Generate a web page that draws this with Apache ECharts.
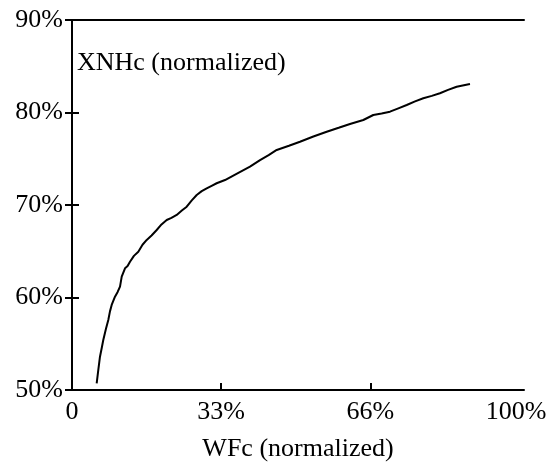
<!DOCTYPE html>
<html>
<head>
<meta charset="utf-8">
<script src="https://cdn.jsdelivr.net/npm/echarts@6/dist/echarts.min.js"></script>
<style>
  html, body { margin: 0; padding: 0; background: #fff; }
  #chart { width: 548px; height: 468px; }
</style>
</head>
<body>
<div id="chart"></div>
<script>
// Normalized WFc (x, %) against normalized XNHc (y, %)
const wfc = [5.46, 5.8, 6.19, 6.6, 6.92, 7.5, 8.03, 8.4, 8.78, 9.51, 10.1, 10.62, 11.0, 11.73, 12.3,
  12.83, 13.7, 14.67, 15.6, 16.53, 17.6, 18.74, 19.8, 20.95, 22.0, 23.16, 24.3, 25.38, 26.5,
  27.59, 28.7, 29.8, 31.0, 32.0, 33.85, 36.5, 39.38, 41.6, 43.5, 45.29, 48.0, 50.44, 53.4,
  56.35, 59.0, 61.5, 64.45, 66.66, 68.5, 70.35, 72.2, 74.05, 75.9, 77.72, 79.6, 81.4, 83.2,
  85.1, 86.7, 88.05];
const xnhc = [50.72, 52.1, 53.6, 54.6, 55.4, 56.6, 57.57, 58.5, 59.19, 60.09, 60.6, 61.17, 62.25, 63.16, 63.4,
  63.87, 64.5, 64.95, 65.7, 66.22, 66.7, 67.3, 67.9, 68.38, 68.6, 68.92, 69.4, 69.82, 70.5,
  71.08, 71.5, 71.8, 72.1, 72.35, 72.7, 73.4, 74.14, 74.86, 75.4, 75.95, 76.4, 76.84, 77.4,
  77.92, 78.35, 78.76, 79.19, 79.73, 79.9, 80.09, 80.45, 80.81, 81.2, 81.54, 81.8, 82.08, 82.45,
  82.79, 82.95, 83.08];

const xTickValues = [33, 66];
const xLabelValues = [0, 33, 66, 100];

const fontFamily = 'Liberation Serif';
const fontSize = 26;
const points = wfc.map((x, i) => [x, xnhc[i]]);

const chart = echarts.init(document.getElementById('chart'));
chart.setOption({
  animation: false,
  backgroundColor: '#fff',
  grid: { left: 72, right: 24, top: 20, bottom: 78, outerBoundsMode: 'none', containLabel: false },
  xAxis: [{
    type: 'value', min: 0, max: 100, position: 'bottom',
    name: 'WFc (normalized)', nameLocation: 'middle', nameGap: 46,
    nameTextStyle: { fontFamily, fontSize, color: '#000' },
    axisLine: { show: true, lineStyle: { color: '#000', width: 2 } },
    axisTick: { show: true, inside: true, length: 7, customValues: xTickValues, lineStyle: { color: '#000', width: 2 } },
    axisLabel: {
      show: true, margin: 9, customValues: xLabelValues,
      fontFamily, fontSize, color: '#000',
      formatter: v => (v === 0 ? '0' : v === 100 ? '{end|100%}' : v + '%'),
      rich: { end: { fontFamily, fontSize, color: '#000', padding: [0, 16, 0, 0] } }
    },
    splitLine: { show: false }
  }, {
    type: 'value', min: 0, max: 100, position: 'top',
    axisLine: { show: true, lineStyle: { color: '#000', width: 2 } },
    axisTick: { show: false }, axisLabel: { show: false }, splitLine: { show: false }
  }],
  yAxis: [{
    type: 'value', min: 50, max: 90, interval: 10, position: 'left',
    axisLine: { show: true, lineStyle: { color: '#000', width: 2 } },
    axisTick: { show: true, inside: true, length: 7, lineStyle: { color: '#000', width: 2 } },
    axisLabel: { margin: 9, fontFamily, fontSize, color: '#000', formatter: '{value}%' },
    splitLine: { show: false }
  }, {
    type: 'value', min: 50, max: 90, interval: 10, position: 'right',
    axisLine: { show: true, lineStyle: { color: '#000', width: 2 } },
    axisTick: { show: true, inside: true, length: 7, lineStyle: { color: '#000', width: 2 } },
    axisLabel: { show: false }, splitLine: { show: false }
  }],
  graphic: [{
    type: 'text', left: 77, top: 50,
    style: { text: 'XNHc (normalized)', fontFamily, fontSize, fill: '#000' }
  }],
  series: [{
    type: 'line', xAxisIndex: 0, yAxisIndex: 0,
    data: points, showSymbol: false, smooth: false,
    lineStyle: { color: '#000', width: 2 }
  }]
});
</script>
</body>
</html>
